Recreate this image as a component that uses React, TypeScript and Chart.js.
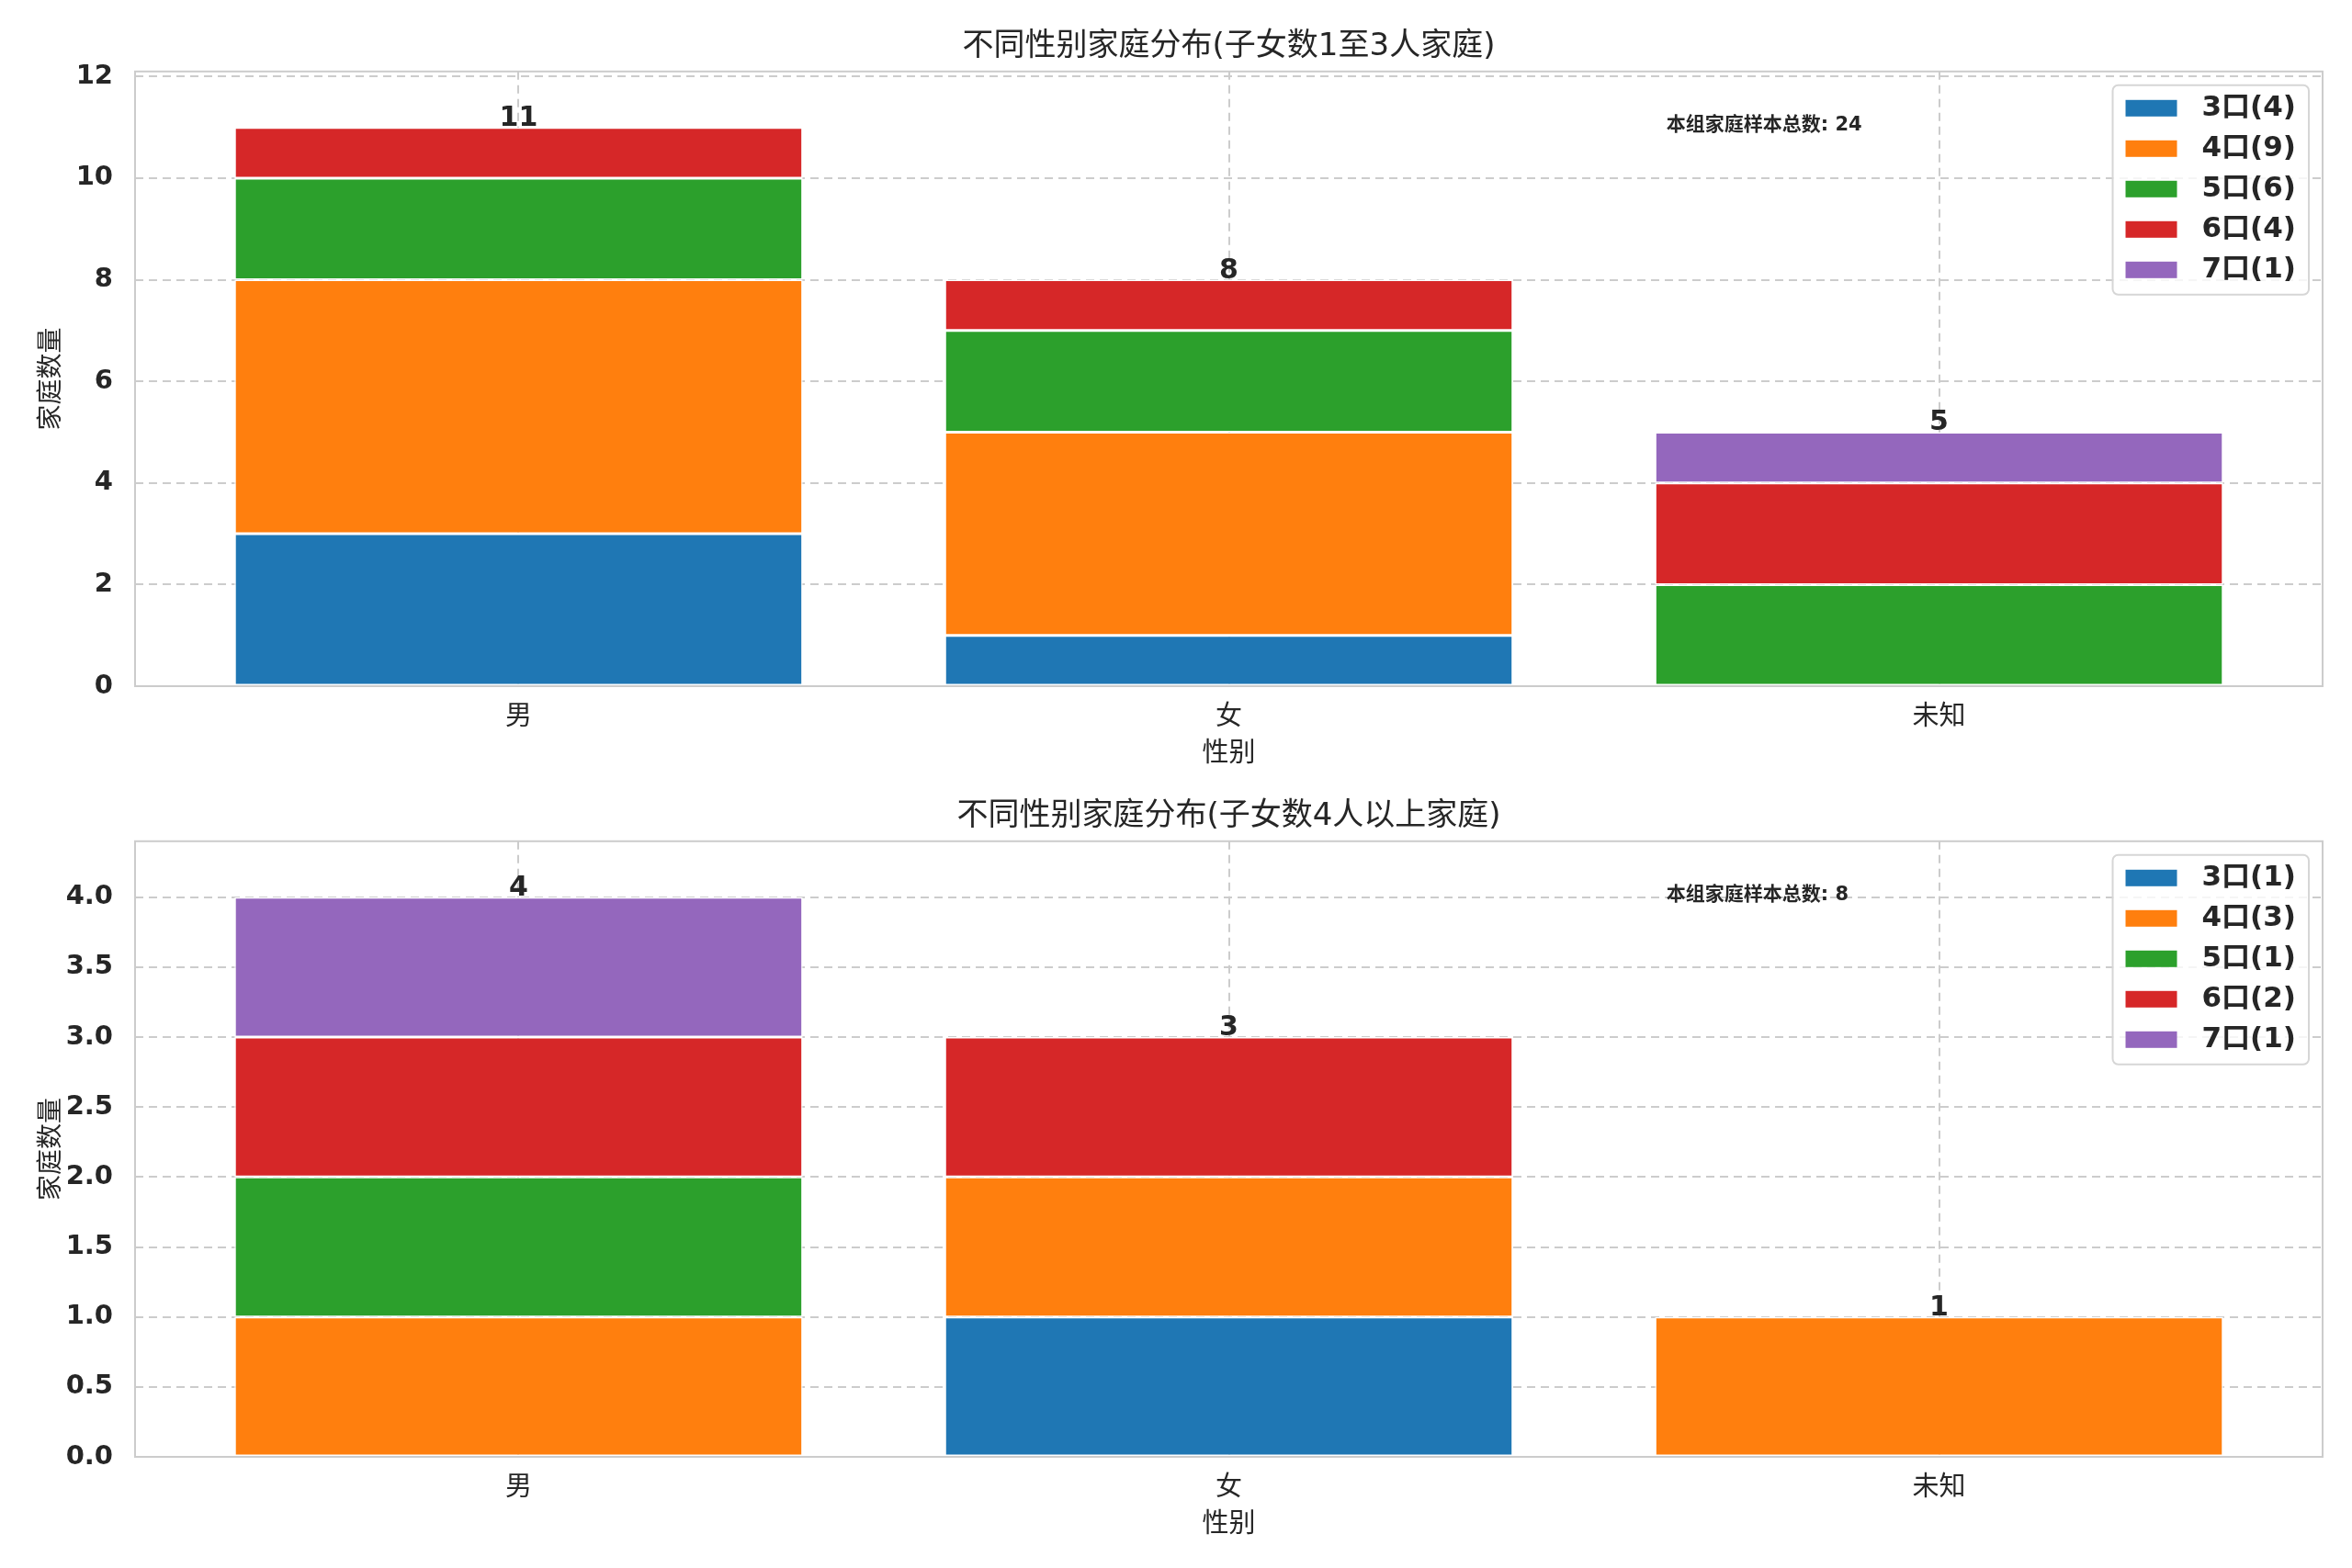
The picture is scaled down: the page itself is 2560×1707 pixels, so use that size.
import { useEffect, useRef } from 'react'
import { Chart, registerables, type Plugin } from 'chart.js'

Chart.register(...registerables)

const FONT = "'DejaVu Sans', 'Noto Sans CJK SC', sans-serif"
const INK = '#262626'
const GRID = '#cccccc'

const categories = ['男', '女', '未知']
const householdSizes = ['3口', '4口', '5口', '6口', '7口']
const sizeColors = ['#1f77b4', '#ff7f0e', '#2ca02c', '#d62728', '#9467bd']

// 子女数1至3人家庭, rows follow householdSizes, columns follow categories
const fewChildrenCounts = [
  [3, 1, 0],
  [5, 4, 0],
  [2, 2, 2],
  [1, 1, 2],
  [0, 0, 1],
]
// 子女数4人以上家庭
const manyChildrenCounts = [
  [0, 1, 0],
  [1, 1, 1],
  [1, 0, 0],
  [1, 1, 0],
  [1, 0, 0],
]

const fewChildrenTicks = [0, 2, 4, 6, 8, 10, 12]
const manyChildrenTicks = [0, 0.5, 1, 1.5, 2, 2.5, 3, 3.5, 4]

const totalsOf = (counts: number[][]) => categories.map((_, i) => counts.reduce((s, row) => s + row[i], 0))

// frame around the plot area, like matplotlib spines
const framePlugin: Plugin<'bar'> = {
  id: 'frame',
  afterDatasetsDraw(chart) {
    const { ctx, chartArea: a } = chart
    ctx.save()
    ctx.strokeStyle = GRID
    ctx.lineWidth = 2
    ctx.strokeRect(a.left, a.top, a.right - a.left, a.bottom - a.top)
    ctx.restore()
  },
}

function makeOverlayPlugin(counts: number[][]): Plugin<'bar'> {
  const totals = totalsOf(counts)
  const grand = totals.reduce((s, v) => s + v, 0)
  return {
    id: 'overlay',
    afterDraw(chart) {
      const { ctx, chartArea: a } = chart
      const x = chart.scales.x
      const y = chart.scales.y
      ctx.save()

      // totals above each stack
      ctx.fillStyle = INK
      ctx.font = `bold 30px ${FONT}`
      ctx.textAlign = 'center'
      ctx.textBaseline = 'alphabetic'
      totals.forEach((t, i) => {
        ctx.fillText(String(t), x.getPixelForValue(i), y.getPixelForValue(t) - 2)
      })

      // group total note
      ctx.font = `bold 21px ${FONT}`
      ctx.textAlign = 'left'
      ctx.textBaseline = 'middle'
      ctx.fillText(`本组家庭样本总数: ${grand}`, a.left + 0.7 * (a.right - a.left), a.top + 0.088 * (a.bottom - a.top))

      // legend box, top right inside the axes
      ctx.font = `bold 31px ${FONT}`
      const labels = householdSizes.map((s, k) => `${s}(${counts[k].reduce((p, v) => p + v, 0)})`)
      const textW = Math.max(...labels.map((l) => ctx.measureText(l).width))
      const boxW = 97 + textW + 14
      const boxH = 228
      const bx = a.right - 15 - boxW
      const by = a.top + 15
      ctx.beginPath()
      ctx.roundRect(bx, by, boxW, boxH, 6)
      ctx.fillStyle = 'rgba(255,255,255,0.8)'
      ctx.fill()
      ctx.strokeStyle = '#d6d6d6'
      ctx.lineWidth = 2
      ctx.stroke()
      labels.forEach((l, k) => {
        const cy = by + 25 + k * 44
        ctx.fillStyle = sizeColors[k]
        ctx.fillRect(bx + 14, cy - 9, 56, 18)
        ctx.fillStyle = INK
        ctx.fillText(l, bx + 97, cy)
      })
      ctx.restore()
    },
  }
}

interface PanelProps {
  title: string
  counts: number[][]
  yTicks: number[]
  decimals: number
  top: number
  height: number
  titleTop: number
  bottomPad: number
}

function StackedPanel({ title, counts, yTicks, decimals, top, height, titleTop, bottomPad }: PanelProps) {
  const canvasRef = useRef<HTMLCanvasElement>(null)

  useEffect(() => {
    const canvas = canvasRef.current
    if (!canvas) return
    const totals = totalsOf(counts)
    const yMax = Math.max(...totals) * 1.1
    const margin = 0.05 * (categories.length - 1 + 0.8)

    const chart = new Chart(canvas, {
      type: 'bar',
      data: {
        datasets: householdSizes.map((s, k) => ({
          label: s,
          data: counts[k].map((v, i) => ({ x: i, y: v })),
          backgroundColor: sizeColors[k],
          borderColor: '#ffffff',
          borderWidth: 1.5,
          borderSkipped: false,
          barPercentage: 0.8,
          categoryPercentage: 1,
        })),
      },
      options: {
        animation: false,
        responsive: true,
        maintainAspectRatio: false,
        layout: { padding: { left: 0, right: 32, top: 0, bottom: bottomPad } },
        plugins: {
          legend: { display: false },
          tooltip: { enabled: false },
          title: {
            display: true,
            text: title,
            fullSize: false,
            color: INK,
            font: { family: FONT, size: 34, weight: 'normal' },
            padding: { top: titleTop, bottom: 6 },
          },
        },
        scales: {
          x: {
            type: 'linear',
            stacked: true,
            offset: false,
            min: -0.4 - margin,
            max: categories.length - 1 + 0.4 + margin,
            afterBuildTicks: (scale) => {
              scale.ticks = categories.map((_, i) => ({ value: i }))
            },
            afterFit: (scale) => {
              scale.height = 106
            },
            ticks: {
              color: INK,
              font: { family: FONT, size: 29 },
              padding: 17,
              callback: (v) => categories[Number(v)] ?? '',
            },
            grid: { color: GRID, lineWidth: 2, drawTicks: false, offset: false },
            border: { display: false, dash: [9, 6] },
            title: {
              display: true,
              text: '性别',
              color: INK,
              font: { family: FONT, size: 29 },
              padding: { top: 0, bottom: 14 },
            },
          },
          y: {
            stacked: true,
            min: 0,
            max: yMax,
            afterBuildTicks: (scale) => {
              scale.ticks = yTicks.map((v) => ({ value: v }))
            },
            afterFit: (scale) => {
              scale.width = 147
            },
            ticks: {
              color: INK,
              font: { family: FONT, size: 29, weight: 'bold' },
              padding: 24,
              callback: (v) => Number(v).toFixed(decimals),
            },
            grid: { color: GRID, lineWidth: 2, drawTicks: false },
            border: { display: false, dash: [9, 6] },
            title: {
              display: true,
              text: '家庭数量',
              color: INK,
              font: { family: FONT, size: 28 },
              padding: { top: 40, bottom: 0 },
            },
          },
        },
      },
      plugins: [framePlugin, makeOverlayPlugin(counts)],
    })

    return () => chart.destroy()
  }, [title, counts, yTicks, decimals, titleTop, bottomPad])

  return (
    <div style={{ position: 'absolute', left: 0, top, width: 2560, height }}>
      <canvas ref={canvasRef} />
    </div>
  )
}

export default function App() {
  return (
    <div style={{ position: 'absolute', left: 0, top: 0, width: 2560, height: 1707, background: '#ffffff' }}>
      <StackedPanel
        title="不同性别家庭分布(子女数1至3人家庭)"
        counts={fewChildrenCounts}
        yTicks={fewChildrenTicks}
        decimals={0}
        top={0}
        height={853}
        titleTop={31}
        bottomPad={0}
      />
      <StackedPanel
        title="不同性别家庭分布(子女数4人以上家庭)"
        counts={manyChildrenCounts}
        yTicks={manyChildrenTicks}
        decimals={1}
        top={853}
        height={854}
        titleTop={16}
        bottomPad={15}
      />
    </div>
  )
}
